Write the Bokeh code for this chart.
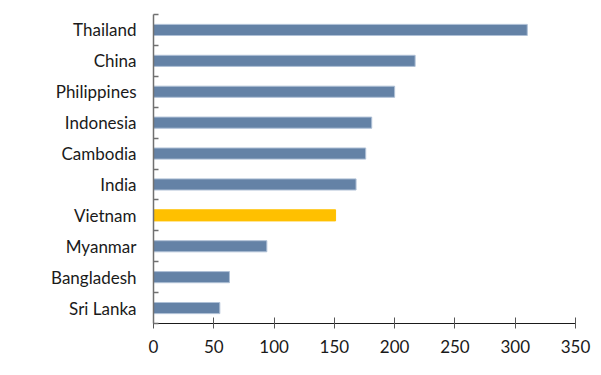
from bokeh.plotting import figure
from bokeh.models import Range1d, FixedTicker, ColumnDataSource
from bokeh.embed import file_html
from bokeh.resources import INLINE

countries = ["Thailand", "China", "Philippines", "Indonesia", "Cambodia",
             "India", "Vietnam", "Myanmar", "Bangladesh", "Sri Lanka"]
values = [310, 217, 200, 181, 176, 168, 151, 94, 63, 55]
highlight = "Vietnam"
x_ticks = [0, 50, 100, 150, 200, 250, 300, 350]

n = len(countries)
pos = [n - 0.5 - i for i in range(n)]
colors = ["#FFC000" if c == highlight else "#6482A6" for c in countries]
lines = ["#FFC000" if c == highlight else "#AFC0D6" for c in countries]

src = ColumnDataSource(dict(y=pos, v=values, c=colors, lc=lines, name=countries))

p = figure(width=593, height=367, output_backend="svg", toolbar_location=None,
           x_range=Range1d(0, 350), y_range=Range1d(0, n),
           min_border_left=153, min_border_right=18, min_border_top=14,
           min_border_bottom=44)
p.outline_line_color = None
p.xgrid.grid_line_color = None
p.ygrid.grid_line_color = None
p.background_fill_color = "white"

p.hbar(y="y", right="v", left=0, height=0.36, fill_color="c", line_color="lc",
       line_width=1, source=src)

font = "Lato"
# x axis
xa = p.xaxis[0]
xa.ticker = FixedTicker(ticks=x_ticks)
xa.axis_line_color = "#1a1a1a"
xa.major_tick_line_color = "#555555"
xa.major_tick_in = 6
xa.major_tick_out = 5
xa.minor_tick_line_color = None
xa.major_label_text_font = font
xa.major_label_text_font_size = "17px"
xa.major_label_text_color = "#1a1a1a"
xa.major_label_standoff = 11

# y axis
ya = p.yaxis[0]
ya.ticker = FixedTicker(ticks=pos, minor_ticks=[float(i) for i in range(n + 1)])
ya.major_label_overrides = {y: c for y, c in zip(pos, countries)}
ya.axis_line_color = "#707070"
ya.axis_line_width = 1.5
ya.major_tick_line_color = None
ya.major_tick_out = 0
ya.major_tick_in = 0
ya.minor_tick_line_color = "#707070"
ya.minor_tick_line_width = 1.5
ya.minor_tick_in = 5
ya.minor_tick_out = 0
ya.major_label_text_font = font
ya.major_label_text_font_size = "17px"
ya.major_label_text_color = "#1a1a1a"
ya.major_label_standoff = 17

open("out.html", "w").write(file_html(p, INLINE))
